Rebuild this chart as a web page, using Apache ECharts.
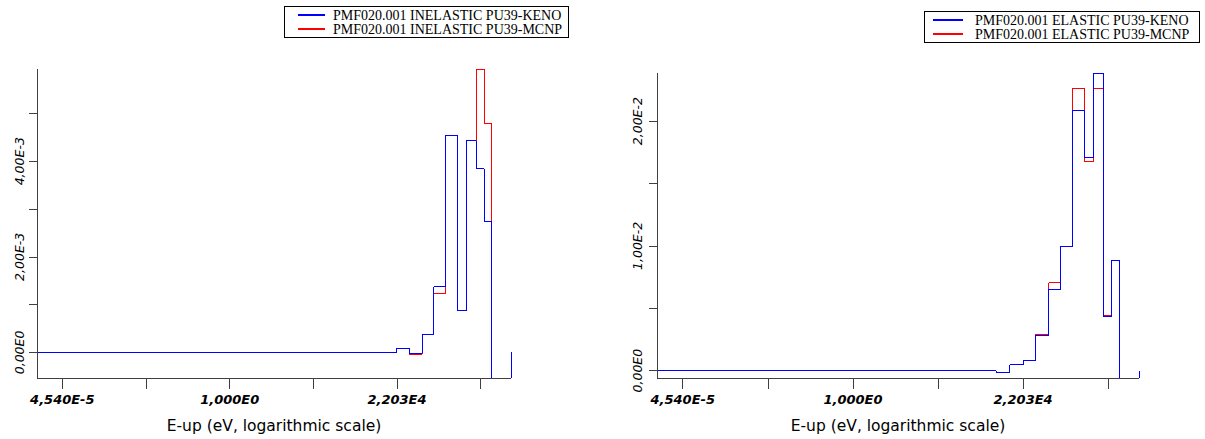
<!DOCTYPE html>
<html><head><meta charset="utf-8">
<script src="https://cdn.jsdelivr.net/npm/echarts@6/dist/echarts.min.js"></script>
<style>html,body{margin:0;padding:0;background:#fff;}#c{width:1205px;height:439px;}
#c svg path{shape-rendering:crispEdges;}</style>
</head><body><div id="c"></div>
<script>
// Upper energy of each group (eV); first point = lower plot limit, last point closes the step
const energyUp = [1e-5, 4.5e3, 1.0e4, 2.2e4, 4.6e4, 1.0e5, 2.0e5, 4.0e5, 8.0e5, 1.4e6, 2.5e6, 4.0e6, 6.3e6, 2.0e7, 2.0e7];

const inelasticKeno = [0, 0, 0, 0, 8.4e-5, -1.5e-5, 3.77e-4, 1.374e-3, 4.536e-3, 8.8e-4, 4.425e-3, 3.84e-3, 2.74e-3, -5.35e-4, 0];
const inelasticMcnp = [0, 0, 0, 0, 8.4e-5, -3.6e-5, 3.77e-4, 1.227e-3, 4.536e-3, 8.8e-4, 4.425e-3, 5.93e-3, 4.796e-3, -5.35e-4, 0];
const elasticKeno = [0, 0, -1.3e-4, 4.6e-4, 7.8e-4, 2.79e-3, 6.5e-3, 9.94e-3, 2.085e-2, 1.707e-2, 2.386e-2, 4.35e-3, 8.83e-3, -5.9e-4, 0];
const elasticMcnp = [0, 0, -1.3e-4, 4.6e-4, 7.8e-4, 2.87e-3, 7.04e-3, 9.94e-3, 2.262e-2, 1.68e-2, 2.258e-2, 4.4e-3, 8.83e-3, -5.9e-4, 0];

const seriesNames = [
  'PMF020.001 INELASTIC PU39-KENO', 'PMF020.001 INELASTIC PU39-MCNP',
  'PMF020.001 ELASTIC PU39-KENO', 'PMF020.001 ELASTIC PU39-MCNP'
];
const xAxisTitle = 'E-up (eV, logarithmic scale)';

// Tick marks (natural-log decades e^-10 ... e^15) and labelled ticks
const xTickValues = [Math.exp(-10), Math.exp(-5), 1, Math.exp(5), Math.exp(10), Math.exp(15)];
const xLabelValues = [Math.exp(-10), 1, Math.exp(10)];
const inelasticYTicks = [0, 1e-3, 2e-3, 3e-3, 4e-3, 5e-3];
const inelasticYLabels = [0, 2e-3, 4e-3];
const elasticYTicks = [0, 5e-3, 1e-2, 1.5e-2, 2e-2];
const elasticYLabels = [0, 1e-2, 2e-2];

function pairs(ys) { return energyUp.map((e, i) => [e, ys[i]]); }
function fmtExp(v, d) {
  return v.toExponential(d).replace('.', ',').replace('e+', 'E').replace('e', 'E');
}

const axisColor = '#404040';
function makeX(gi) {
  return {
    type: 'log', logBase: Math.E, gridIndex: gi, min: 'dataMin', max: 'dataMax', z: 10,
    name: xAxisTitle, nameLocation: 'middle', nameGap: 40,
    nameTextStyle: { fontFamily: 'DejaVu Sans', fontSize: 15.5, color: '#000' },
    axisLine: { show: true, onZero: false, lineStyle: { color: axisColor, width: 1 } },
    axisTick: { show: true, length: 11, customValues: xTickValues, lineStyle: { color: axisColor } },
    axisLabel: {
      customValues: xLabelValues, margin: 15,
      fontFamily: 'DejaVu Sans', fontStyle: 'italic', fontWeight: 'bold', fontSize: 13, color: '#000',
      formatter: v => fmtExp(v, 3)
    },
    splitLine: { show: false }, minorTick: { show: false }
  };
}
function makeY(gi, ticks, labels, margin) {
  return {
    type: 'value', gridIndex: gi, min: 'dataMin', max: 'dataMax', z: 10,
    axisLine: { show: true, onZero: false, lineStyle: { color: axisColor, width: 1 } },
    axisTick: { show: true, length: 8, customValues: ticks, lineStyle: { color: axisColor } },
    axisLabel: {
      customValues: labels, rotate: 90, margin: margin,
      fontFamily: 'DejaVu Sans', fontStyle: 'italic', fontSize: 12.5, color: '#000',
      formatter: v => fmtExp(v, 2)
    },
    splitLine: { show: false }
  };
}
function makeSeries(name, data, color, xi, z) {
  return {
    name, type: 'line', step: 'start', xAxisIndex: xi, yAxisIndex: xi,
    data: pairs(data), showSymbol: false, symbol: 'none', clip: true, z: z,
    lineStyle: { color, width: 1, opacity: 1 }, itemStyle: { color }, silent: true, animation: false
  };
}
function makeLegend(names, left, top, iconW, pad, gap) {
  return {
    data: names.map(n => ({ name: n, icon: 'rect' })), orient: 'vertical', left, top,
    itemWidth: iconW, itemHeight: 2, itemGap: 0, selectedMode: false,
    padding: pad, borderColor: '#000', borderWidth: 1, backgroundColor: '#fff',
    itemStyle: { borderWidth: 0 },
    textStyle: { fontFamily: 'Liberation Serif', fontSize: 14, lineHeight: 13.5, color: '#000', padding: [0, 0, 0, gap - 5] }
  };
}

const chart = echarts.init(document.getElementById('c'), null, { renderer: 'svg' });
chart.setOption({
  animation: false,
  backgroundColor: '#fff',
  grid: [
    { left: 37, top: 69, width: 474, height: 309 },
    { left: 657, top: 73, width: 482, height: 305 }
  ],
  legend: [
    makeLegend([seriesNames[0], seriesNames[1]], 284, 6, 27, [2, 6, 1, 14], 8),
    makeLegend([seriesNames[2], seriesNames[3]], 924, 11, 30, [2, 10, 1, 9], 12)
  ],
  xAxis: [makeX(0), makeX(1)],
  yAxis: [makeY(0, inelasticYTicks, inelasticYLabels, 11), makeY(1, elasticYTicks, elasticYLabels, 13)],
  series: [
    makeSeries(seriesNames[1], inelasticMcnp, '#ff0000', 0, 2),
    makeSeries(seriesNames[0], inelasticKeno, '#0000ff', 0, 3),
    makeSeries(seriesNames[3], elasticMcnp, '#ff0000', 1, 2),
    makeSeries(seriesNames[2], elasticKeno, '#0000ff', 1, 3)
  ]
});
</script>
</body></html>
